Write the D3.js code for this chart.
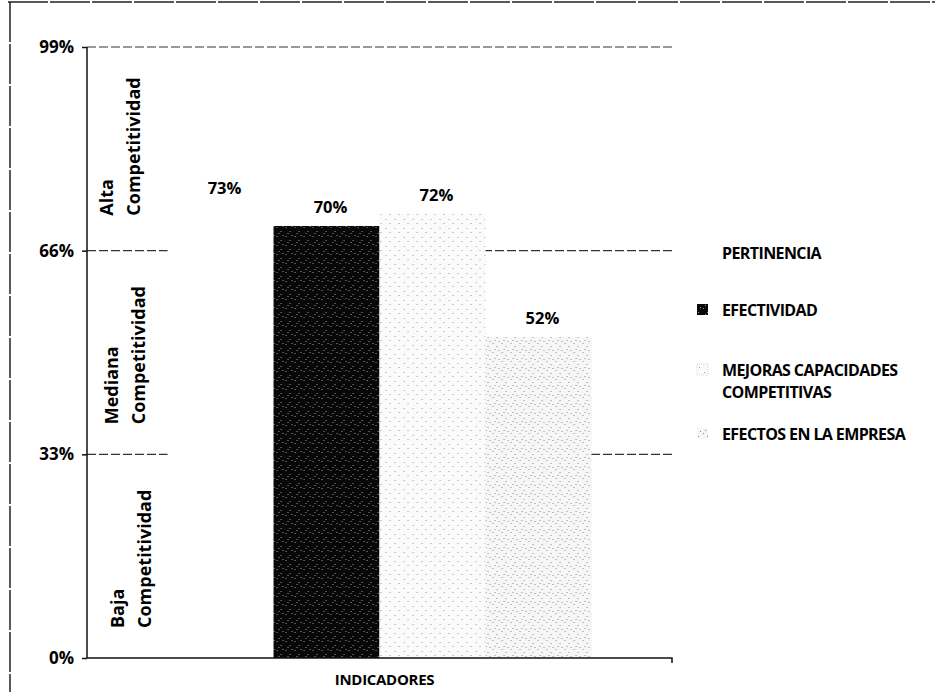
<!DOCTYPE html>
<html><head><meta charset="utf-8">
<script src="https://cdn.jsdelivr.net/npm/d3@7"></script>
<style>
body{margin:0;background:#fff}
text{font-family:'Open Sans',sans-serif;font-weight:700;fill:#000}
</style>
</head><body>
<svg id="c" width="935" height="692"></svg>
<script>
// ---- data ----
const categories = ["INDICADORES"];
const series = ["PERTINENCIA","EFECTIVIDAD","MEJORAS CAPACIDADES COMPETITIVAS","EFECTOS EN LA EMPRESA"];
const legendLines = [["PERTINENCIA"],["EFECTIVIDAD"],["MEJORAS CAPACIDADES","COMPETITIVAS"],["EFECTOS EN LA EMPRESA"]];
const values = [73,70,72,52];
const valueLabels = ["73%","70%","72%","52%"];
const yTicks = [0,33,66,99];
const yTickLabels = ["0%","33%","66%","99%"];
const zoneNames = [["Baja","Competitividad"],["Mediana","Competitividad"],["Alta","Competitividad"]];
const zoneLower = [0,33,66];

// ---- layout ----
const svg = d3.select("#c");
const L = 87, R = 672, T = 47, B = 658;
const y = d3.scaleLinear().domain([0,99]).range([B,T]);
const x0 = d3.scaleBand().domain(categories).range([L,R]).paddingInner(0).paddingOuter(0.19);
const x1 = d3.scaleBand().domain(series).range([0,x0.bandwidth()]).padding(0);
const color = d3.scaleOrdinal().domain(series).range(["#ffffff","url(#pBlack)","url(#pLight)","url(#pGray)"]);

// patterns (stipple)
const defs = svg.append("defs");
function pattern(id,bg,dot,pts){
  const p = defs.append("pattern").attr("id",id).attr("patternUnits","userSpaceOnUse").attr("width",9).attr("height",9);
  p.append("rect").attr("width",9).attr("height",9).attr("fill",bg);
  pts.forEach(([a,b])=>p.append("rect").attr("x",a).attr("y",b).attr("width",1).attr("height",1).attr("fill",dot));
}
pattern("pBlack","#080808","#9a9a9a",[[1,2],[5,6],[7,1],[3,8]]);
pattern("pLight","#fbfbfb","#9a9a9a",[[2,3],[6,7]]);
pattern("pGray","#f6f6f6","#8a8a8a",[[1,1],[5,4],[3,7],[7,8]]);

// frame
svg.append("line").attr("x1",8).attr("x2",935).attr("y1",2).attr("y2",2).attr("stroke","#222").attr("stroke-width",1.5).attr("stroke-dasharray","40,2");
svg.append("line").attr("x1",10).attr("x2",10).attr("y1",2).attr("y2",692).attr("stroke","#222").attr("stroke-width",1.5).attr("stroke-dasharray","40,2");

// gridlines
svg.append("g").selectAll("line").data(yTicks.filter(d=>d>0)).join("line")
  .attr("x1",L).attr("x2",R).attr("y1",d=>y(d)).attr("y2",d=>y(d))
  .attr("stroke","#333").attr("stroke-width",1.2).attr("stroke-dasharray","9,3");

// bars
const g = svg.append("g").attr("transform",`translate(${x0(categories[0])},0)`);
g.selectAll("rect").data(series).join("rect")
  .attr("x",d=>x1(d)).attr("width",x1.bandwidth())
  .attr("y",(d,i)=>y(values[i])).attr("height",(d,i)=>B-y(values[i]))
  .attr("fill",d=>color(d));
g.selectAll("text").data(series).join("text")
  .attr("x",d=>x1(d)+x1.bandwidth()/2+4).attr("y",(d,i)=>y(values[i])-13)
  .attr("text-anchor","middle").attr("font-size",16.5).text((d,i)=>valueLabels[i]);

// y axis
const ya = svg.append("g").attr("transform",`translate(${L},0)`)
  .call(d3.axisLeft(y).tickValues(yTicks).tickFormat((d,i)=>yTickLabels[i]).tickSize(5).tickPadding(8));
ya.select(".domain").attr("stroke","#111").attr("stroke-width",1.5).attr("d",`M0,${T}V${B}`);
ya.selectAll(".tick line").attr("stroke","#111").attr("stroke-width",1.5);
ya.selectAll(".tick text").style("font-family","'Open Sans',sans-serif").style("font-weight",700).style("font-size","17px").attr("fill","#000");

// x axis
const xa = svg.append("g").attr("transform",`translate(0,${B})`)
  .call(d3.axisBottom(x0).tickSize(0).tickFormat(""));
xa.select(".domain").attr("stroke","#111").attr("stroke-width",1.5).attr("d",`M${L},0H${R}V5`);
svg.append("text").attr("x",(L+R)/2+5).attr("y",685).attr("text-anchor","middle")
  .attr("font-size",15).attr("letter-spacing",-0.3).text(categories[0]);

// zone labels
const zoneX = [[124,151],[118,145],[113,140]];
zoneNames.forEach((lines,zi)=>{
  const yb = y(zoneLower[zi]) - (zi===2?35:30);
  lines.forEach((t,li)=>{
    svg.append("text").attr("transform",`translate(${zoneX[zi][li]},${yb}) rotate(-90)`)
      .attr("font-size",18).attr("text-anchor","start").text(t);
  });
});

// legend
const legY = [253,310,370,434];
const lg = svg.append("g");
series.forEach((s,i)=>{
  lg.append("rect").attr("x",697).attr("y",legY[i]-6).attr("width",11).attr("height",11)
    .attr("fill",color(s)).attr("stroke",i===2?"#bbb":"none").attr("stroke-width",0.6).attr("stroke-dasharray","1,1");
  legendLines[i].forEach((t,li)=>{
    lg.append("text").attr("x",722).attr("y",legY[i]+li*22).attr("dy","0.35em")
      .attr("font-size",16).attr("letter-spacing",-0.6).text(t);
  });
});
</script>
</body></html>
